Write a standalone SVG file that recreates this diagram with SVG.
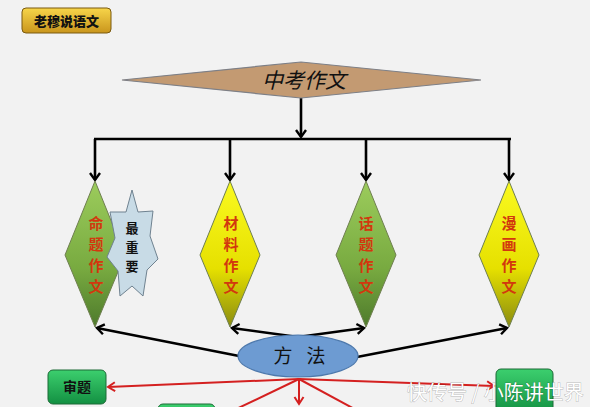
<svg xmlns="http://www.w3.org/2000/svg" width="590" height="407" viewBox="0 0 590 407">
<defs>
<linearGradient id="gGold" x1="0" y1="0" x2="0" y2="1"><stop offset="0" stop-color="#f7d54a"/><stop offset="1" stop-color="#c9951c"/></linearGradient>
<linearGradient id="gGreen" x1="0" y1="0" x2="0" y2="1"><stop offset="0" stop-color="#9ccc5c"/><stop offset="0.6" stop-color="#78aa40"/><stop offset="1" stop-color="#4e7a2c"/></linearGradient>
<linearGradient id="gYellow" x1="0" y1="0" x2="0" y2="1"><stop offset="0" stop-color="#fafa20"/><stop offset="0.6" stop-color="#e6e000"/><stop offset="1" stop-color="#8a8c10"/></linearGradient>
<linearGradient id="gBox" x1="0" y1="0" x2="0" y2="1"><stop offset="0" stop-color="#3ccf6e"/><stop offset="1" stop-color="#139042"/></linearGradient>
<marker id="ak" markerWidth="12" markerHeight="12" refX="9" refY="6" orient="auto" markerUnits="userSpaceOnUse"><path d="M2,1 L9,6 L2,11" fill="none" stroke="#000" stroke-width="2.4"/></marker>
<marker id="ar" markerWidth="12" markerHeight="12" refX="9" refY="6" orient="auto" markerUnits="userSpaceOnUse"><path d="M2,1.5 L9,6 L2,10.5" fill="none" stroke="#d42020" stroke-width="2"/></marker>
</defs>
<style>
.blk{stroke:#000;stroke-width:2.6;fill:none}
.red{stroke:#d42020;stroke-width:2;fill:none}
.dia{stroke:#6f7f50;stroke-width:1}
.vt{font-family:"Noto Sans CJK SC",sans-serif;font-weight:700;font-size:15px;fill:#d2380e;text-anchor:middle}
.st{font-family:"Noto Sans CJK SC",sans-serif;font-weight:700;font-size:13px;fill:#111;text-anchor:middle}
.bx{stroke:#1d6a36;stroke-width:1}
.bt{font-family:"Noto Sans CJK SC",sans-serif;font-weight:700;font-size:14px;fill:#111;text-anchor:middle}
.mt{font-family:"Noto Sans CJK SC",sans-serif;font-size:19px;fill:#111;text-anchor:middle}
</style>
<rect width="590" height="407" fill="#f2f2f2"/>

<g id="title">
<rect x="22" y="8" width="89" height="25" rx="4" fill="url(#gGold)" stroke="#7a5a10" stroke-width="1"/>
<text x="66.5" y="26" font-family="Noto Sans CJK SC,sans-serif" font-weight="900" font-size="13" fill="#111" text-anchor="middle">老穆说语文</text>
</g>

<g id="connectors">
<line x1="301" y1="98" x2="301" y2="137" class="blk" marker-end="url(#ak)"/>
<line x1="94" y1="139" x2="511" y2="139" class="blk"/>
<line x1="95" y1="139" x2="95" y2="180" class="blk" marker-end="url(#ak)"/>
<line x1="230" y1="139" x2="230" y2="180" class="blk" marker-end="url(#ak)"/>
<line x1="366" y1="139" x2="366" y2="180" class="blk" marker-end="url(#ak)"/>
<line x1="509" y1="139" x2="509" y2="180" class="blk" marker-end="url(#ak)"/>
<line x1="298" y1="337" x2="232" y2="328" class="blk" marker-end="url(#ak)"/>
<line x1="298" y1="337" x2="364" y2="328" class="blk" marker-end="url(#ak)"/>
<line x1="239" y1="356" x2="97" y2="328" class="blk" marker-end="url(#ak)"/>
<line x1="357" y1="357" x2="507" y2="328" class="blk" marker-end="url(#ak)"/>
<line x1="299" y1="379" x2="108" y2="387" class="red" marker-end="url(#ar)"/>
<line x1="299" y1="379" x2="494" y2="386" class="red" marker-end="url(#ar)"/>
<line x1="299" y1="379" x2="299" y2="404" class="red" marker-end="url(#ar)"/>
<line x1="299" y1="379" x2="230" y2="412" class="red"/>
<line x1="299" y1="379" x2="360" y2="412" class="red"/>
</g>

<g id="main">
<polygon points="122,80 301,62 481,80 301,98" fill="#c39a72" stroke="#7d7f86" stroke-width="1.2"/>
<text x="304" y="88" font-family="Noto Sans CJK SC,sans-serif" font-style="italic" font-size="21" fill="#111" text-anchor="middle">中考作文</text>
</g>

<g id="n1">
<polygon points="95,181 125,255 95,327 65,255" fill="url(#gGreen)" class="dia"/>
<text class="vt" x="96" y="229">命</text>
<text class="vt" x="96" y="250">题</text>
<text class="vt" x="96" y="271">作</text>
<text class="vt" x="96" y="292">文</text>
</g>

<g id="star">
<polygon points="132,190 138,212 153,211 150,236 158,259 147,270 143,296 132,286 120,296 118,271 107,257 115,238 110,212 126,212" fill="#c8dbe6" stroke="#6f8290" stroke-width="1"/>
<text class="st" x="132" y="233">最</text>
<text class="st" x="132" y="252">重</text>
<text class="st" x="132" y="271">要</text>
</g>

<g id="n2">
<polygon points="230,181 260,255 230,327 200,255" fill="url(#gYellow)" class="dia"/>
<text class="vt" x="231" y="229">材</text>
<text class="vt" x="231" y="250">料</text>
<text class="vt" x="231" y="271">作</text>
<text class="vt" x="231" y="292">文</text>
</g>

<g id="n3">
<polygon points="366,181 396,255 366,327 336,255" fill="url(#gGreen)" class="dia"/>
<text class="vt" x="366" y="229">话</text>
<text class="vt" x="366" y="250">题</text>
<text class="vt" x="366" y="271">作</text>
<text class="vt" x="366" y="292">文</text>
</g>

<g id="n4">
<polygon points="509,181 539,255 509,327 479,255" fill="url(#gYellow)" class="dia"/>
<text class="vt" x="509" y="229">漫</text>
<text class="vt" x="509" y="250">画</text>
<text class="vt" x="509" y="271">作</text>
<text class="vt" x="509" y="292">文</text>
</g>

<g id="method">
<ellipse cx="298" cy="356" rx="60" ry="21" fill="#6d9bd2" stroke="#4d79ad" stroke-width="1.2"/>
<text class="mt" x="283" y="363">方</text>
<text class="mt" x="316" y="363">法</text>
</g>

<g id="b1">
<rect x="48" y="370" width="58" height="34" rx="5" fill="url(#gBox)" class="bx"/>
<text class="bt" x="77" y="392">审题</text>
</g>
<g id="b2">
<rect x="158" y="404" width="57" height="30" rx="5" fill="url(#gBox)" class="bx"/>
</g>
<g id="b3">
<rect x="496" y="369" width="57" height="44" rx="5" fill="url(#gBox)" class="bx"/>
</g>

<text x="407" y="400" font-family="Noto Sans CJK SC,sans-serif" font-size="20" fill="#fff" stroke="#000" stroke-opacity="0.25" stroke-width="1" paint-order="stroke">快传号 / 小陈讲世界</text>
</svg>
